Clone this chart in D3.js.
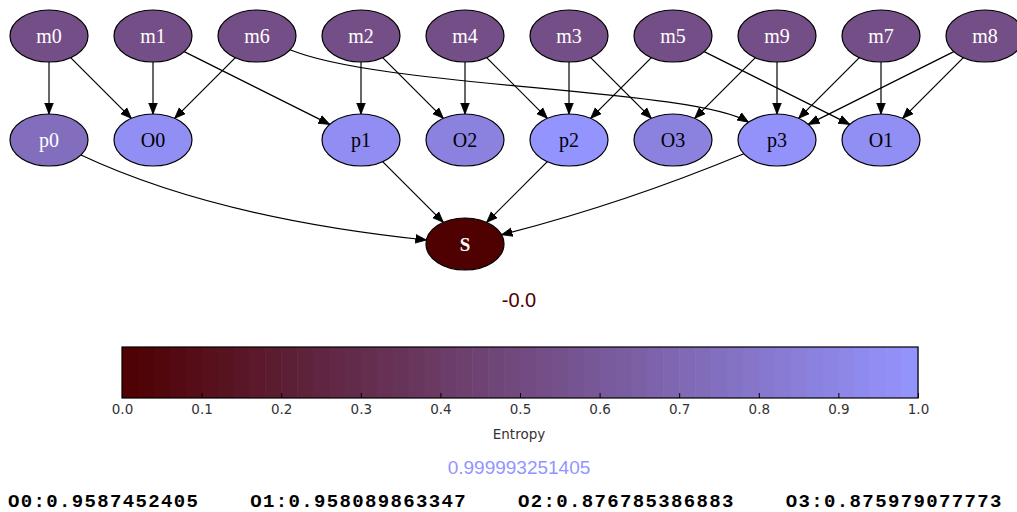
<!DOCTYPE html>
<html>
<head>
<meta charset="utf-8">
<script src="https://cdn.jsdelivr.net/npm/d3@7"></script>
<style>
  body { margin: 0; background: #fff; }
  svg { display: block; }
</style>
</head>
<body>
<div id="chart"></div>
<script>
var svgWidth = 1017;
var svgHeight = 512;

// node rows: name, column, entropy
var topNodes = ["m0", "m1", "m6", "m2", "m4", "m3", "m5", "m9", "m7", "m8"];
var topCols = [0, 1, 2, 3, 4, 5, 6, 7, 8, 9];
var topEntropy = [0.53, 0.53, 0.53, 0.53, 0.53, 0.53, 0.53, 0.53, 0.53, 0.53];

var midNodes = ["p0", "O0", "p1", "O2", "p2", "O3", "p3", "O1"];
var midCols = [0, 1, 3, 4, 5, 6, 7, 8];
var midEntropy = [0.74, 0.9587452405, 0.95, 0.876785386883, 0.999993251405, 0.875979077773, 0.985, 0.958089863347];

var sinkNodes = ["S"];
var sinkCols = [4];
var sinkEntropy = [-0.0];

// edges: source, target
var edges = [
  ["m0", "p0"], ["m0", "O0"], ["m1", "O0"], ["m1", "p1"], ["m6", "O0"],
  ["m6", "p3"], ["m2", "p1"], ["m2", "O2"], ["m4", "O2"], ["m4", "p2"],
  ["m3", "p2"], ["m3", "O3"], ["m5", "p2"], ["m5", "O1"], ["m9", "O3"],
  ["m9", "p3"], ["m7", "p3"], ["m7", "O1"], ["m8", "p3"], ["m8", "O1"],
  ["p0", "S"], ["p1", "S"], ["p2", "S"], ["p3", "S"]
];
// curved edges: control points in col/row units
var edgeBends = {
  "m6-p3": [[3.2, 0.5], [6.2, 0.5]],
  "p0-S": [[1.6, 1.75]],
  "p3-S": [[5.5, 1.62]]
};

var cbTicks = [0.0, 0.1, 0.2, 0.3, 0.4, 0.5, 0.6, 0.7, 0.8, 0.9, 1.0];
var minLabel = "-0.0";
var maxLabel = "0.999993251405";
var outputLabels = ["O0:0.9587452405", "O1:0.958089863347", "O2:0.876785386883", "O3:0.875979077773"];

var svg = d3.select("#chart")
  .append("svg")
  .attr("width", svgWidth)
  .attr("height", svgHeight);

var color = d3.scaleLinear()
  .domain([0, 1])
  .range(["#4f0000", "#9494ff"])
  .interpolate(d3.interpolateRgb)
  .clamp(true);

var xCol = d3.scaleLinear().domain([0, 9]).range([49, 985]);
var yRow = d3.scaleLinear().domain([0, 2]).range([36, 244]);
var rx = 39, ry = 26;

// build node table
var nodes = [];
topNodes.forEach(function(n, i) { nodes.push({name: n, col: topCols[i], row: 0, h: topEntropy[i]}); });
midNodes.forEach(function(n, i) { nodes.push({name: n, col: midCols[i], row: 1, h: midEntropy[i]}); });
sinkNodes.forEach(function(n, i) { nodes.push({name: n, col: sinkCols[i], row: 2, h: sinkEntropy[i]}); });
var byName = {};
nodes.forEach(function(d) { byName[d.name] = d; d.x = xCol(d.col); d.y = yRow(d.row); });

// point on ellipse boundary of node d, heading toward p
function boundary(d, p) {
  var dx = p[0] - d.x, dy = p[1] - d.y;
  var t = 1 / Math.sqrt((dx / rx) * (dx / rx) + (dy / ry) * (dy / ry));
  return [d.x + dx * t, d.y + dy * t];
}

svg.append("defs").append("marker")
  .attr("id", "arrow")
  .attr("markerUnits", "userSpaceOnUse")
  .attr("viewBox", "0 -5 11 10")
  .attr("refX", 11)
  .attr("refY", 0)
  .attr("markerWidth", 11)
  .attr("markerHeight", 10)
  .attr("orient", "auto")
  .append("path")
  .attr("d", "M0,-4.3L11,0L0,4.3Z")
  .attr("fill", "#000")
  .attr("stroke", "#000")
  .attr("stroke-width", 0.8);

var edgeGroup = svg.append("g");
edges.forEach(function(e) {
  var s = byName[e[0]], t = byName[e[1]];
  var bend = edgeBends[e[0] + "-" + e[1]];
  var path = d3.path();
  if (!bend) {
    var p0 = boundary(s, [t.x, t.y]);
    var p1 = boundary(t, [s.x, s.y]);
    path.moveTo(p0[0], p0[1]);
    path.lineTo(p1[0], p1[1]);
  } else {
    var c = bend.map(function(b) { return [xCol(b[0]), yRow(b[1])]; });
    var a = boundary(s, c[0]);
    var b = boundary(t, c[c.length - 1]);
    path.moveTo(a[0], a[1]);
    if (c.length === 1) path.quadraticCurveTo(c[0][0], c[0][1], b[0], b[1]);
    else path.bezierCurveTo(c[0][0], c[0][1], c[1][0], c[1][1], b[0], b[1]);
  }
  edgeGroup.append("path")
    .attr("d", path.toString())
    .attr("fill", "none")
    .attr("stroke", "#000")
    .attr("stroke-width", 1.2)
    .attr("marker-end", "url(#arrow)");
});

var nodeGroup = svg.append("g")
  .selectAll("g")
  .data(nodes)
  .enter()
  .append("g")
  .attr("transform", d => `translate(${d.x}, ${d.y})`);

nodeGroup.append("ellipse")
  .attr("rx", rx)
  .attr("ry", ry)
  .attr("fill", d => color(d.h))
  .attr("stroke", "#000")
  .attr("stroke-width", 1.2);

nodeGroup.append("text")
  .attr("text-anchor", "middle")
  .attr("dy", "0.35em")
  .attr("font-family", "'Liberation Serif', 'Times New Roman', serif")
  .attr("font-size", d => d.row === 2 ? 19 : 20)
  .attr("font-weight", d => d.row === 2 ? "bold" : "normal")
  .attr("fill", d => d.h < 0.8 ? "#fff" : "#000")
  .text(d => d.name);

// min entropy label
svg.append("text")
  .attr("x", 519)
  .attr("y", 307)
  .attr("text-anchor", "middle")
  .attr("font-family", "'Liberation Sans', Arial, sans-serif")
  .attr("font-size", 20)
  .attr("fill", color(0))
  .text(minLabel);

// colorbar
var cbX = d3.scaleLinear().domain([0, 1]).range([122, 918]);
var cbTop = 347, cbBottom = 398;
var nBands = 50;
var bands = d3.range(nBands).map(i => i / nBands);
var cbGroup = svg.append("g");
cbGroup.selectAll("rect")
  .data(bands)
  .enter()
  .append("rect")
  .attr("x", d => cbX(d))
  .attr("y", cbTop)
  .attr("width", cbX(1 / nBands) - cbX(0) + 0.6)
  .attr("height", cbBottom - cbTop)
  .attr("fill", d => color(d + 0.5 / nBands));
cbGroup.append("rect")
  .attr("x", cbX(0))
  .attr("y", cbTop)
  .attr("width", cbX(1) - cbX(0))
  .attr("height", cbBottom - cbTop)
  .attr("fill", "none")
  .attr("stroke", "#000")
  .attr("stroke-width", 1.2);

var cbAxis = d3.axisBottom(cbX)
  .tickValues(cbTicks)
  .tickFormat(d3.format(".1f"))
  .tickSizeInner(-5)
  .tickSizeOuter(0)
  .tickPadding(6);
var cbAxisG = svg.append("g")
  .attr("transform", `translate(0, ${cbBottom})`)
  .call(cbAxis);
cbAxisG.select(".domain").remove();
cbAxisG.selectAll(".tick line").attr("stroke", "#000");
cbAxisG.selectAll(".tick text")
  .attr("font-family", "'DejaVu Sans', sans-serif")
  .attr("font-size", 13.5)
  .attr("fill", "#333");

svg.append("text")
  .attr("x", 519)
  .attr("y", 439)
  .attr("text-anchor", "middle")
  .attr("font-family", "'DejaVu Sans', sans-serif")
  .attr("font-size", 13.5)
  .attr("fill", "#333")
  .text("Entropy");

// max entropy label
svg.append("text")
  .attr("x", 519)
  .attr("y", 474)
  .attr("text-anchor", "middle")
  .attr("font-family", "'Liberation Sans', Arial, sans-serif")
  .attr("font-size", 19)
  .attr("fill", color(1))
  .text(maxLabel);

// output entropies line
svg.append("text")
  .attr("x", 8)
  .attr("y", 507)
  .attr("font-family", "'Liberation Mono', 'Courier New', monospace")
  .attr("font-weight", "bold")
  .attr("font-size", 19)
  .attr("letter-spacing", 1.35)
  .attr("xml:space", "preserve")
  .style("white-space", "pre")
  .attr("fill", "#000")
  .text(outputLabels.join("    "));
</script>
</body>
</html>
